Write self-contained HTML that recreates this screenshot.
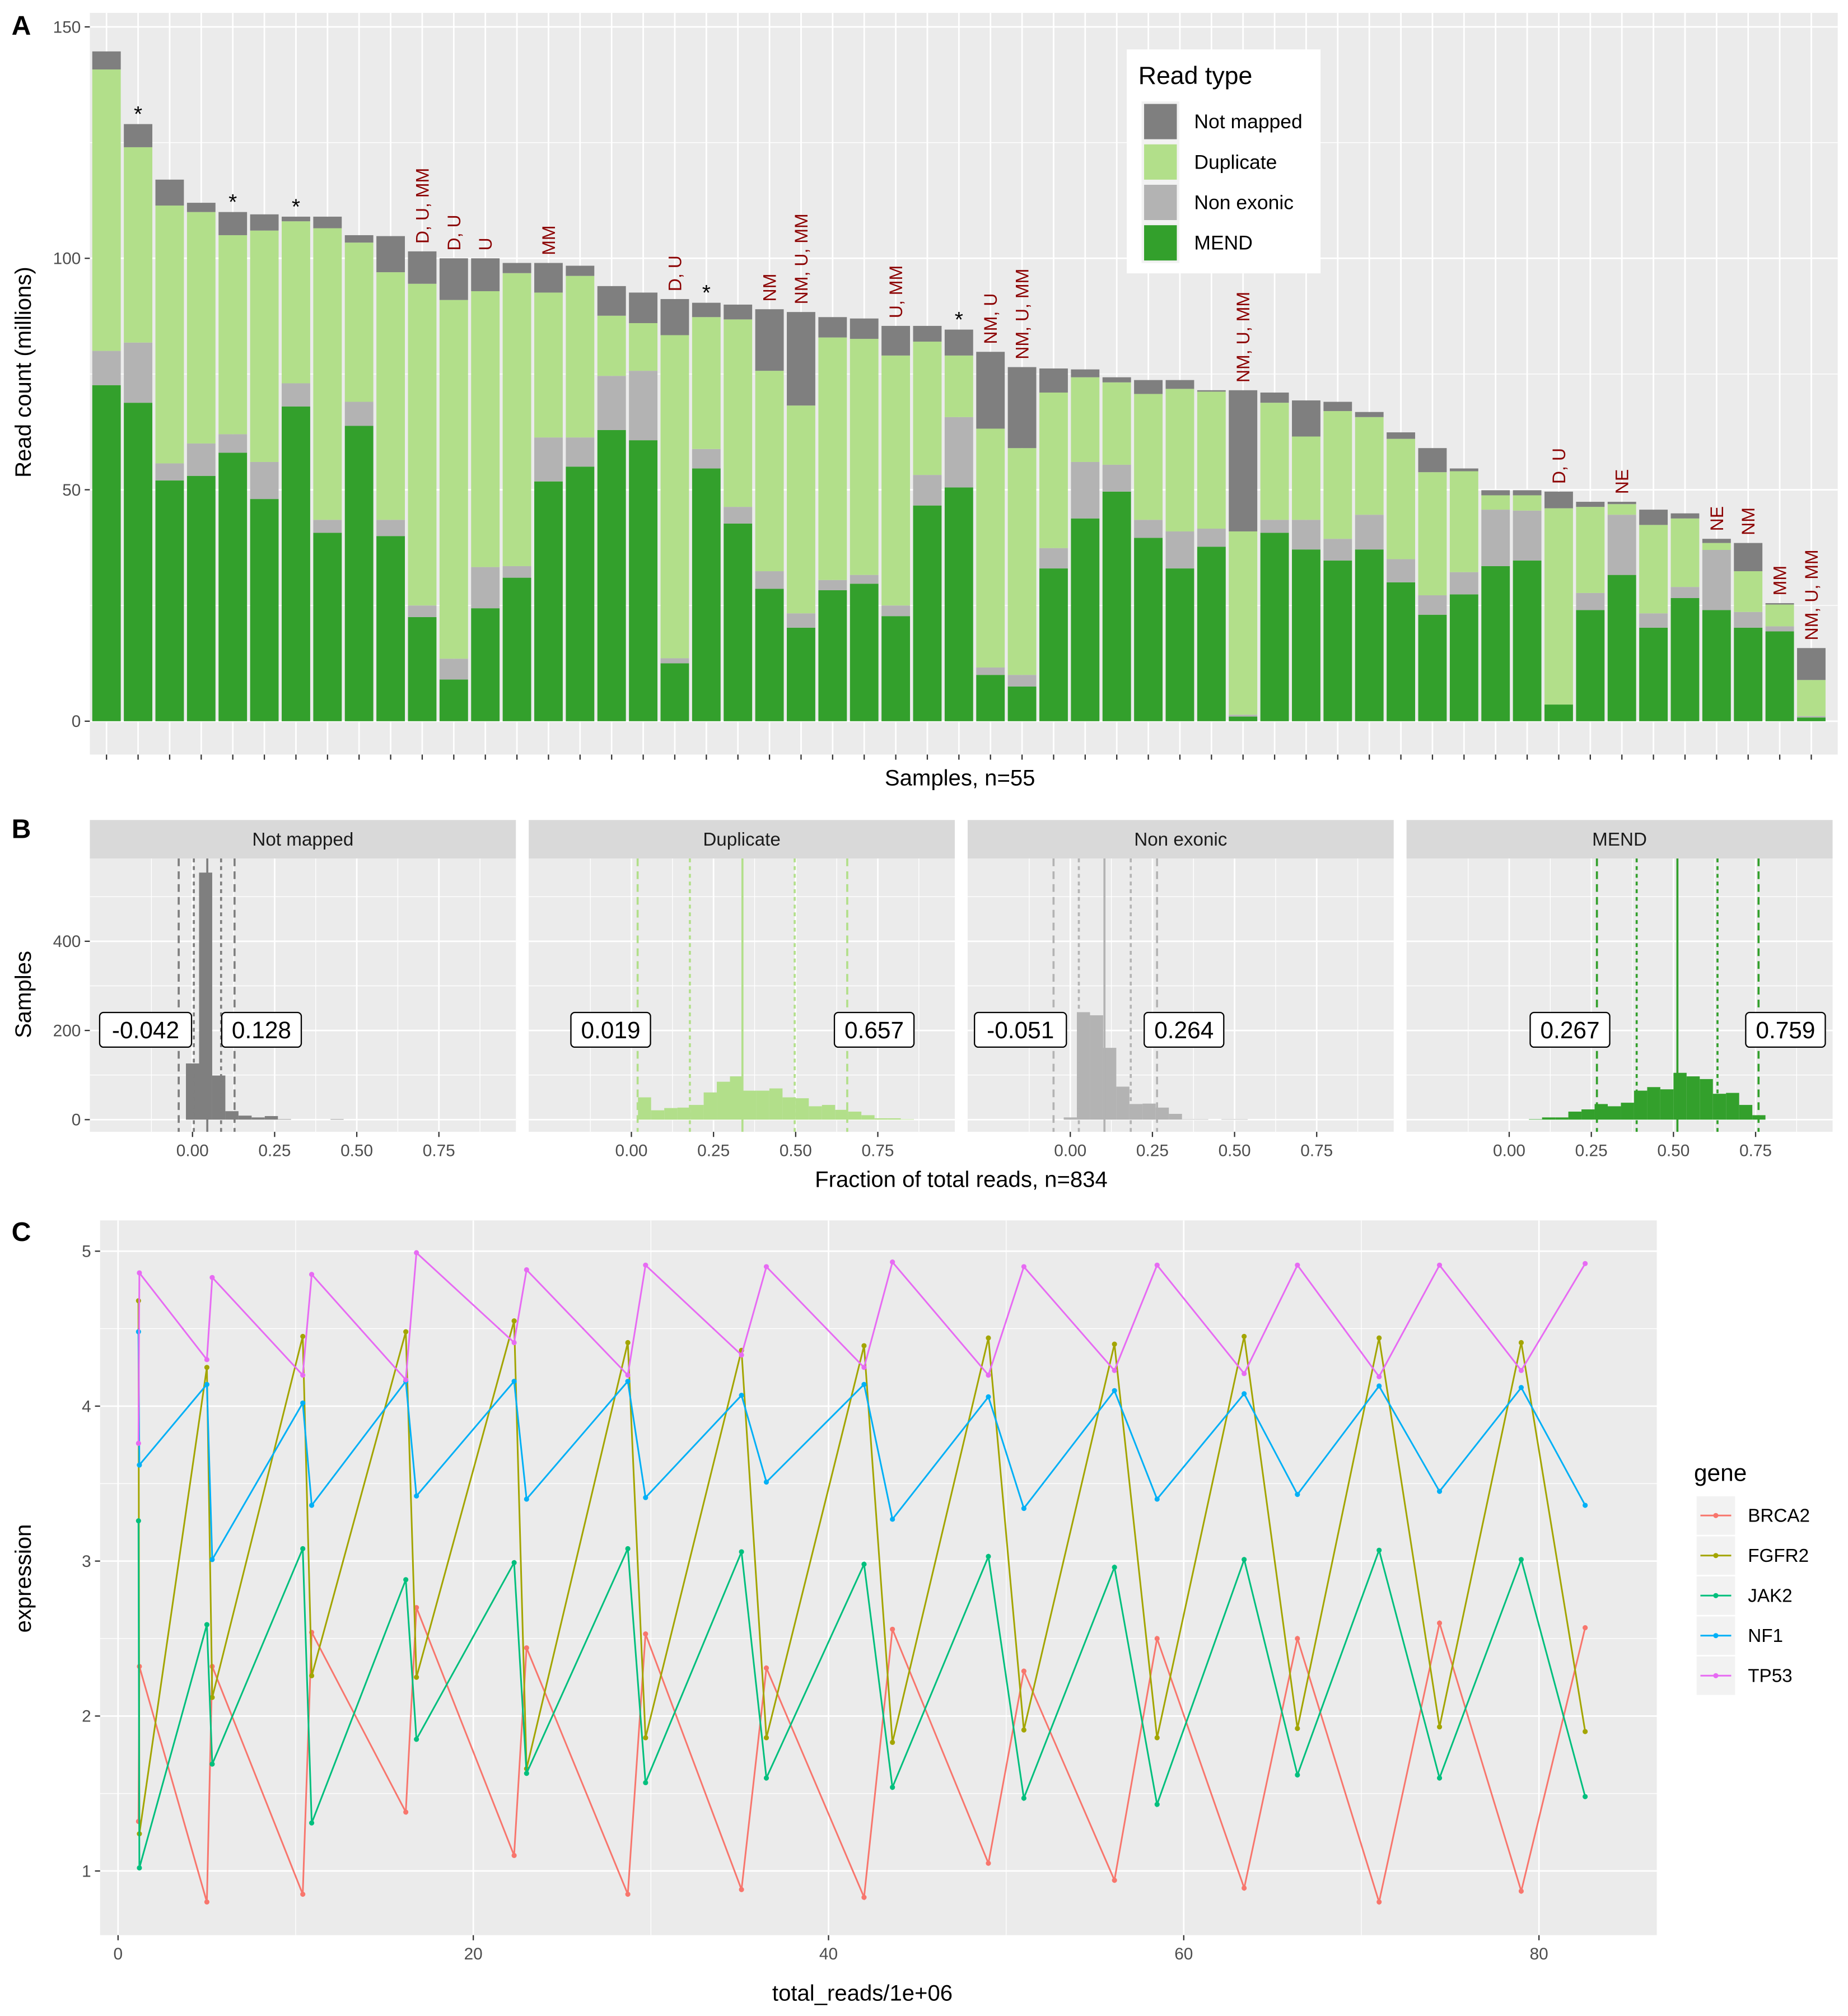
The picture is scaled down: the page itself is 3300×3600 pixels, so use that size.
<!DOCTYPE html>
<html><head><meta charset="utf-8"><style>
html,body{margin:0;padding:0;background:#fff;}
svg{display:block;font-family:"Liberation Sans",sans-serif;}
</style></head><body>
<svg id="fig" xmlns="http://www.w3.org/2000/svg" width="3300" height="3600" viewBox="0 0 1440 1571" preserveAspectRatio="none">
<rect width="1440" height="1571" fill="#fff"/>
</svg>
<script>
// ---------- Panel A data ----------
const samplesN = 55;
const mendVals = [72.6,68.8,52,53,58,48,68,40.7,63.8,40,22.5,9,24.4,31,51.8,55,62.9,60.7,12.5,54.6,42.7,28.6,20.2,28.3,29.7,22.7,46.6,50.5,10,7.5,33,43.8,49.6,39.6,33,37.7,1,40.7,37.1,34.7,37.1,30,23,27.4,33.5,34.7,3.6,24,31.6,20.2,26.6,24,20.2,19.4,0.8];
const nonExonicVals = [7.4,13,3.7,7,4,8,5,2.8,5.2,3.5,2.5,4.5,8.9,2.5,9.5,6.3,11.7,15,1.1,4.2,3.6,3.8,3.1,2.2,1.9,2.3,6.6,15.2,1.6,2.5,4.4,12.2,5.8,3.9,8,3.9,0.4,2.8,6.4,4.7,7.5,5,4.2,4.8,12.2,10.8,0,3.7,13,3.1,2.4,13,3.4,1.1,0.3];
const duplicateVals = [60.8,42.2,55.7,50,43,50,35,63,34.4,53.5,69.5,77.5,59.6,63.3,31.3,34.9,13,10.3,69.8,28.5,40.5,43.3,44.9,52.4,51,54,28.8,13.3,51.6,49,33.6,18.3,17.8,27.2,30.8,29.6,39.6,25.3,18,27.6,21.1,26,26.6,21.8,3.1,3.3,42.4,18.6,2.3,19.1,14.8,1.5,8.8,4.7,7.8];
const notMappedVals = [3.9,5,5.6,2,5,3.5,1,2.5,1.6,7.8,7,9,7.1,2.2,6.4,2.2,6.4,6.6,7.8,3.1,3.2,13.3,20.2,4.4,4.4,6.4,3.4,5.6,16.6,17.5,5.2,1.7,1.1,3,1.9,0.3,30.5,2.2,7.8,2,1.1,1.4,5.2,0.6,1.1,1.1,3.6,1.1,0.5,3.3,1.1,0.9,6.1,0.3,6.9];
const annotIdx = [1,4,6,10,11,12,14,18,19,21,22,25,27,28,29,36,46,48,51,52,53,54];
const annotText = ["*","*","*","D, U, MM","D, U","U","MM","D, U","*","NM","NM, U, MM","U, MM","*","NM, U","NM, U, MM","NM, U, MM","D, U","NE","NE","NM","MM","NM, U, MM"];
const yTicksA = [0,50,100,150];
const readTypes = ["Not mapped","Duplicate","Non exonic","MEND"];

// ---------- Panel B data ----------
const facetNames = ["Not mapped","Duplicate","Non exonic","MEND"];
const binStart = [0, 0.04, 0, 0.08];   // first bin centre per facet
const binWidth = 0.04;
const histNM = [126,554,99,19,9,5,8,1,0,0,0,1];
const histDup = [50,21,26,27,33,61,85,97,65,65,70,50,48,30,33,22,18,10,3,3,1];
const histNE = [5,241,234,161,74,35,36,27,13,1,1,0,1,1];
const histMEND = [1,5,5,18,23,35,30,38,65,73,68,105,97,91,58,60,33,10];
const lo2 = [-0.042,0.019,-0.051,0.267];
const lo1 = [0.004,0.178,0.026,0.388];
const meanV = [0.045,0.338,0.104,0.512];
const hi1 = [0.087,0.497,0.184,0.634];
const hi2 = [0.128,0.657,0.264,0.759];
const loLabels = ["-0.042","0.019","-0.051","0.267"];
const hiLabels = ["0.128","0.657","0.264","0.759"];
const xTicksB = [0,0.25,0.5,0.75];
const yTicksB = [0,200,400];

// ---------- Panel C data ----------
const totalReads = [1.15,1.2,5.0,5.3,10.4,10.9,16.2,16.8,22.3,23.0,28.7,29.7,35.1,36.5,42.0,43.6,49.0,51.0,56.1,58.5,63.4,66.4,71.0,74.4,79.0,82.6];
const geneNames = ["BRCA2","FGFR2","JAK2","NF1","TP53"];
const exprBRCA2 = [1.32,2.32,0.80,2.32,0.85,2.54,1.38,2.70,1.10,2.44,0.85,2.53,0.88,2.31,0.83,2.56,1.05,2.29,0.94,2.50,0.89,2.50,0.80,2.60,0.87,2.57];
const exprFGFR2 = [4.68,1.24,4.25,2.12,4.45,2.26,4.48,2.25,4.55,1.66,4.41,1.86,4.36,1.86,4.39,1.83,4.44,1.91,4.40,1.86,4.45,1.92,4.44,1.93,4.41,1.90];
const exprJAK2 = [3.26,1.02,2.59,1.69,3.08,1.31,2.88,1.85,2.99,1.63,3.08,1.57,3.06,1.60,2.98,1.54,3.03,1.47,2.96,1.43,3.01,1.62,3.07,1.60,3.01,1.48];
const exprNF1 = [4.48,3.62,4.14,3.01,4.02,3.36,4.16,3.42,4.16,3.40,4.16,3.41,4.07,3.51,4.14,3.27,4.06,3.34,4.10,3.40,4.08,3.43,4.13,3.45,4.12,3.36];
const exprTP53 = [3.76,4.86,4.30,4.83,4.20,4.85,4.17,4.99,4.41,4.88,4.20,4.91,4.33,4.90,4.25,4.93,4.20,4.90,4.23,4.91,4.21,4.91,4.19,4.91,4.23,4.92];
const xTicksC = [0,20,40,60,80];
const yTicksC = [1,2,3,4,5];

const NS = "http://www.w3.org/2000/svg";
const svg = document.getElementById("fig");
function mk(tag, attrs, parent, text){
  const e = document.createElementNS(NS, tag);
  for (const k in attrs) e.setAttribute(k, attrs[k]);
  if (text !== undefined) e.textContent = text;
  (parent || svg).appendChild(e);
  return e;
}
function grp(name){ const g = mk("g", {});   return g; }
const TICK = "#4d4d4d";

// ======================= PANEL A =======================
const A = {x0:70, x1:1432, y0:10, y1:588};
const yA = v => 562 - v*3.607;
const xA = i => 83 + i*24.6;
const gA = grp("panel-a");
mk("rect",{x:A.x0,y:A.y0,width:A.x1-A.x0,height:A.y1-A.y0,fill:"#EBEBEB"},gA);
[25,75,125].forEach(v=>mk("line",{x1:A.x0,x2:A.x1,y1:yA(v),y2:yA(v),stroke:"#fff","stroke-width":0.6},gA));
yTicksA.forEach(v=>{
  mk("line",{x1:A.x0,x2:A.x1,y1:yA(v),y2:yA(v),stroke:"#fff","stroke-width":1.2},gA);
  mk("line",{x1:A.x0-4,x2:A.x0,y1:yA(v),y2:yA(v),stroke:"#333","stroke-width":1},gA);
  const t = mk("text",{x:A.x0-7,y:yA(v)+4.5,"text-anchor":"end","font-size":13,fill:TICK},gA,String(v));
   
});
for (let i=0;i<samplesN;i++){
  mk("line",{x1:xA(i),x2:xA(i),y1:A.y0,y2:A.y1,stroke:"#fff","stroke-width":1.2},gA);
  mk("line",{x1:xA(i),x2:xA(i),y1:A.y1,y2:A.y1+4,stroke:"#333","stroke-width":1},gA);
}
const colsA = {nm:"#7F7F7F",dup:"#B2DF8A",ne:"#B3B3B3",mend:"#33A02C"};
const bw = 22.2;
for (let i=0;i<samplesN;i++){
  const segs = [[mendVals[i],colsA.mend,"mend"],[nonExonicVals[i],colsA.ne,"non-exonic"],[duplicateVals[i],colsA.dup,"duplicate"],[notMappedVals[i],colsA.nm,"not-mapped"]];
  let base = 0;
  segs.forEach(s=>{
    const r = mk("rect",{x:xA(i)-bw/2,y:yA(base+s[0]),width:bw,height:Math.max(0,yA(base)-yA(base+s[0])),fill:s[1]},gA);
    
    
    base += s[0];
  });
}
annotIdx.forEach((idx,k)=>{
  const i = idx;
  const tot = mendVals[i]+nonExonicVals[i]+duplicateVals[i]+notMappedVals[i];
  const y = yA(tot);
  let t;
  if (annotText[k]==="*"){
    t = mk("text",{x:xA(i),y:y-2,"text-anchor":"middle","font-size":17,fill:"#000"},gA,"*");
  } else {
    t = mk("text",{x:0,y:0,"text-anchor":"start","font-size":14,fill:"#8B0000",transform:`translate(${xA(i)+5},${y-6}) rotate(-90)`},gA,annotText[k]);
  }
  
  
});
// legend
const lgA = grp("legend-read-type");
mk("rect",{x:878,y:38.5,width:151,height:174.5,fill:"#fff"},lgA);
mk("text",{x:887,y:65.5,"font-size":19.5,fill:"#000"},lgA,"Read type");
[colsA.nm,colsA.dup,colsA.ne,colsA.mend].forEach((c,k)=>{
  const y = 79 + k*31.5;
  mk("rect",{x:889.5,y:y,width:29.5,height:31.5,fill:"#F2F2F2"},lgA);
  mk("rect",{x:891.5,y:y+2,width:25.5,height:27.5,fill:c},lgA);
  const t = mk("text",{x:930.5,y:y+21,"font-size":15.5,fill:"#000"},lgA,readTypes[k]);
  
  
});
let t;
t = mk("text",{x:0,y:0,"font-size":17.5,fill:"#000","text-anchor":"middle",transform:"translate(24,290) rotate(-90)"},gA,"Read count (millions)");
 
t = mk("text",{x:748,y:612,"font-size":17.5,fill:"#000","text-anchor":"middle"},gA,"Samples, n=55");
 
t = mk("text",{x:9,y:27,"font-size":21,"font-weight":"bold",fill:"#000"},svg,"A");
 

// ======================= PANEL B =======================
const facetX0 = [70,412,754,1096];
const fw = 332;
const B = {y0:669, y1:882};
const yB = c => 872.5 - c*0.3475;
const hists = [histNM,histDup,histNE,histMEND];
const fillB = ["#7F7F7F","#B2DF8A","#B3B3B3","#33A02C"];
const lineB = ["#7F7F7F","#B2DF8A","#B3B3B3","#33A02C"];
for (let f=0;f<4;f++){
  const gx = facetX0[f];
  const xB = v => gx + 80 + v*256;
  const g = grp("facet-"+facetNames[f].toLowerCase().replace(" ","-"));
  mk("rect",{x:gx,y:639,width:fw,height:30,fill:"#D9D9D9"},g);
  mk("text",{x:gx+fw/2,y:659,"text-anchor":"middle","font-size":14.5,fill:"#1A1A1A"},g,facetNames[f]);
  mk("rect",{x:gx,y:B.y0,width:fw,height:B.y1-B.y0,fill:"#EBEBEB"},g);
  [100,300,500].forEach(v=>mk("line",{x1:gx,x2:gx+fw,y1:yB(v),y2:yB(v),stroke:"#fff","stroke-width":0.6},g));
  [-0.125,0.125,0.375,0.625,0.875].forEach(v=>mk("line",{x1:xB(v),x2:xB(v),y1:B.y0,y2:B.y1,stroke:"#fff","stroke-width":0.6},g));
  yTicksB.forEach(v=>mk("line",{x1:gx,x2:gx+fw,y1:yB(v),y2:yB(v),stroke:"#fff","stroke-width":1.2},g));
  xTicksB.forEach(v=>{
    mk("line",{x1:xB(v),x2:xB(v),y1:B.y0,y2:B.y1,stroke:"#fff","stroke-width":1.2},g);
    mk("line",{x1:xB(v),x2:xB(v),y1:B.y1,y2:B.y1+4,stroke:"#333","stroke-width":1},g);
    const tt = mk("text",{x:xB(v),y:B.y1+19,"text-anchor":"middle","font-size":13,fill:TICK},g,v.toFixed(2));
     
  });
  const h = hists[f];
  h.forEach((c,k)=>{
    const centre = binStart[f] + k*binWidth;
    const r = mk("rect",{x:xB(centre-binWidth/2),y:yB(c),width:binWidth*256,height:yB(0)-yB(c),fill:fillB[f]},g);
    
    
  });
  const vl = (v,dash,w)=>mk("line",{x1:xB(v),x2:xB(v),y1:B.y0,y2:B.y1,stroke:lineB[f],"stroke-width":w,"stroke-dasharray":dash},g);
  vl(lo2[f],"6,4",1.6); vl(hi2[f],"6,4",1.6);
  vl(lo1[f],"3,3",1.6); vl(hi1[f],"3,3",1.6);
  vl(meanV[f],"none",1.6);
  // labels
  const lblW = s => s.length*9.6+14;
  const lw = lblW(loLabels[f]), rw = lblW(hiLabels[f]);
  const lx = xB(lo2[f]) + 10 - lw;
  const rx = xB(hi2[f]) - 10;
  const lg = mk("g",{},g);
   
  mk("rect",{x:lx,y:789,width:lw,height:27,rx:3,fill:"#fff",stroke:"#000","stroke-width":1},lg);
  mk("text",{x:lx+lw/2,y:809,"text-anchor":"middle","font-size":18.5,fill:"#000"},lg,loLabels[f]);
  const rg = mk("g",{},g);
   
  mk("rect",{x:rx,y:789,width:rw,height:27,rx:3,fill:"#fff",stroke:"#000","stroke-width":1},rg);
  mk("text",{x:rx+rw/2,y:809,"text-anchor":"middle","font-size":18.5,fill:"#000"},rg,hiLabels[f]);
}
yTicksB.forEach(v=>{
  mk("line",{x1:66,x2:70,y1:yB(v),y2:yB(v),stroke:"#333","stroke-width":1});
  const tt = mk("text",{x:63,y:yB(v)+4.5,"text-anchor":"end","font-size":13,fill:TICK},svg,String(v));
   
});
t = mk("text",{x:0,y:0,"font-size":17.5,fill:"#000","text-anchor":"middle",transform:"translate(24,775) rotate(-90)"},svg,"Samples");
 
t = mk("text",{x:749,y:925,"font-size":17.5,fill:"#000","text-anchor":"middle"},svg,"Fraction of total reads, n=834");
 
t = mk("text",{x:9,y:653,"font-size":21,"font-weight":"bold",fill:"#000"},svg,"B");
 

// ======================= PANEL C =======================
const C = {x0:78, x1:1291, y0:951, y1:1508};
const xC = v => 92 + v*13.84;
const yC = v => 1458 - (v-1)*120.75;
const gC = grp("panel-c");
mk("rect",{x:C.x0,y:C.y0,width:C.x1-C.x0,height:C.y1-C.y0,fill:"#EBEBEB"},gC);
[10,30,50,70].forEach(v=>mk("line",{x1:xC(v),x2:xC(v),y1:C.y0,y2:C.y1,stroke:"#fff","stroke-width":0.6},gC));
[1.5,2.5,3.5,4.5].forEach(v=>mk("line",{x1:C.x0,x2:C.x1,y1:yC(v),y2:yC(v),stroke:"#fff","stroke-width":0.6},gC));
xTicksC.forEach(v=>{
  mk("line",{x1:xC(v),x2:xC(v),y1:C.y0,y2:C.y1,stroke:"#fff","stroke-width":1.2},gC);
  mk("line",{x1:xC(v),x2:xC(v),y1:C.y1,y2:C.y1+4,stroke:"#333","stroke-width":1},gC);
  const tt = mk("text",{x:xC(v),y:C.y1+19,"text-anchor":"middle","font-size":13,fill:TICK},gC,String(v));
   
});
yTicksC.forEach(v=>{
  mk("line",{x1:C.x0,x2:C.x1,y1:yC(v),y2:yC(v),stroke:"#fff","stroke-width":1.2},gC);
  mk("line",{x1:C.x0-4,x2:C.x0,y1:yC(v),y2:yC(v),stroke:"#333","stroke-width":1},gC);
  const tt = mk("text",{x:C.x0-7,y:yC(v)+4.5,"text-anchor":"end","font-size":13,fill:TICK},gC,String(v));
   
});
const geneCols = ["#F8766D","#A3A500","#00BF7D","#00B0F6","#E76BF3"];
const exprs = [exprBRCA2,exprFGFR2,exprJAK2,exprNF1,exprTP53];
exprs.forEach((arr,gi)=>{
  const pts = arr.map((v,k)=>xC(totalReads[k]).toFixed(1)+","+yC(v).toFixed(1)).join(" ");
  const pl = mk("polyline",{points:pts,fill:"none",stroke:geneCols[gi],"stroke-width":1.3},gC);
  
  
  arr.forEach((v,k)=>{
    const c = mk("circle",{cx:xC(totalReads[k]),cy:yC(v),r:2,fill:geneCols[gi]},gC);
    
    
  });
});
const lgC = grp("legend-gene");
mk("text",{x:1320,y:1154,"font-size":18.5,fill:"#000"},lgC,"gene");
geneNames.forEach((n,k)=>{
  const cy = 1181 + k*31.2;
  mk("rect",{x:1322,y:cy-15,width:30,height:30,fill:"#F2F2F2"},lgC);
  mk("line",{x1:1325,x2:1349,y1:cy,y2:cy,stroke:geneCols[k],"stroke-width":1.3},lgC);
  mk("circle",{cx:1337,cy:cy,r:2,fill:geneCols[k]},lgC);
  const tt = mk("text",{x:1362,y:cy+5,"font-size":14.5,fill:"#000"},lgC,n);
  
  
});
t = mk("text",{x:0,y:0,"font-size":17.5,fill:"#000","text-anchor":"middle",transform:"translate(24,1230) rotate(-90)"},svg,"expression");
 
t = mk("text",{x:672,y:1559,"font-size":17.5,fill:"#000","text-anchor":"middle"},svg,"total_reads/1e+06");
 
t = mk("text",{x:9,y:967,"font-size":21,"font-weight":"bold",fill:"#000"},svg,"C");
 
</script>
</body></html>
